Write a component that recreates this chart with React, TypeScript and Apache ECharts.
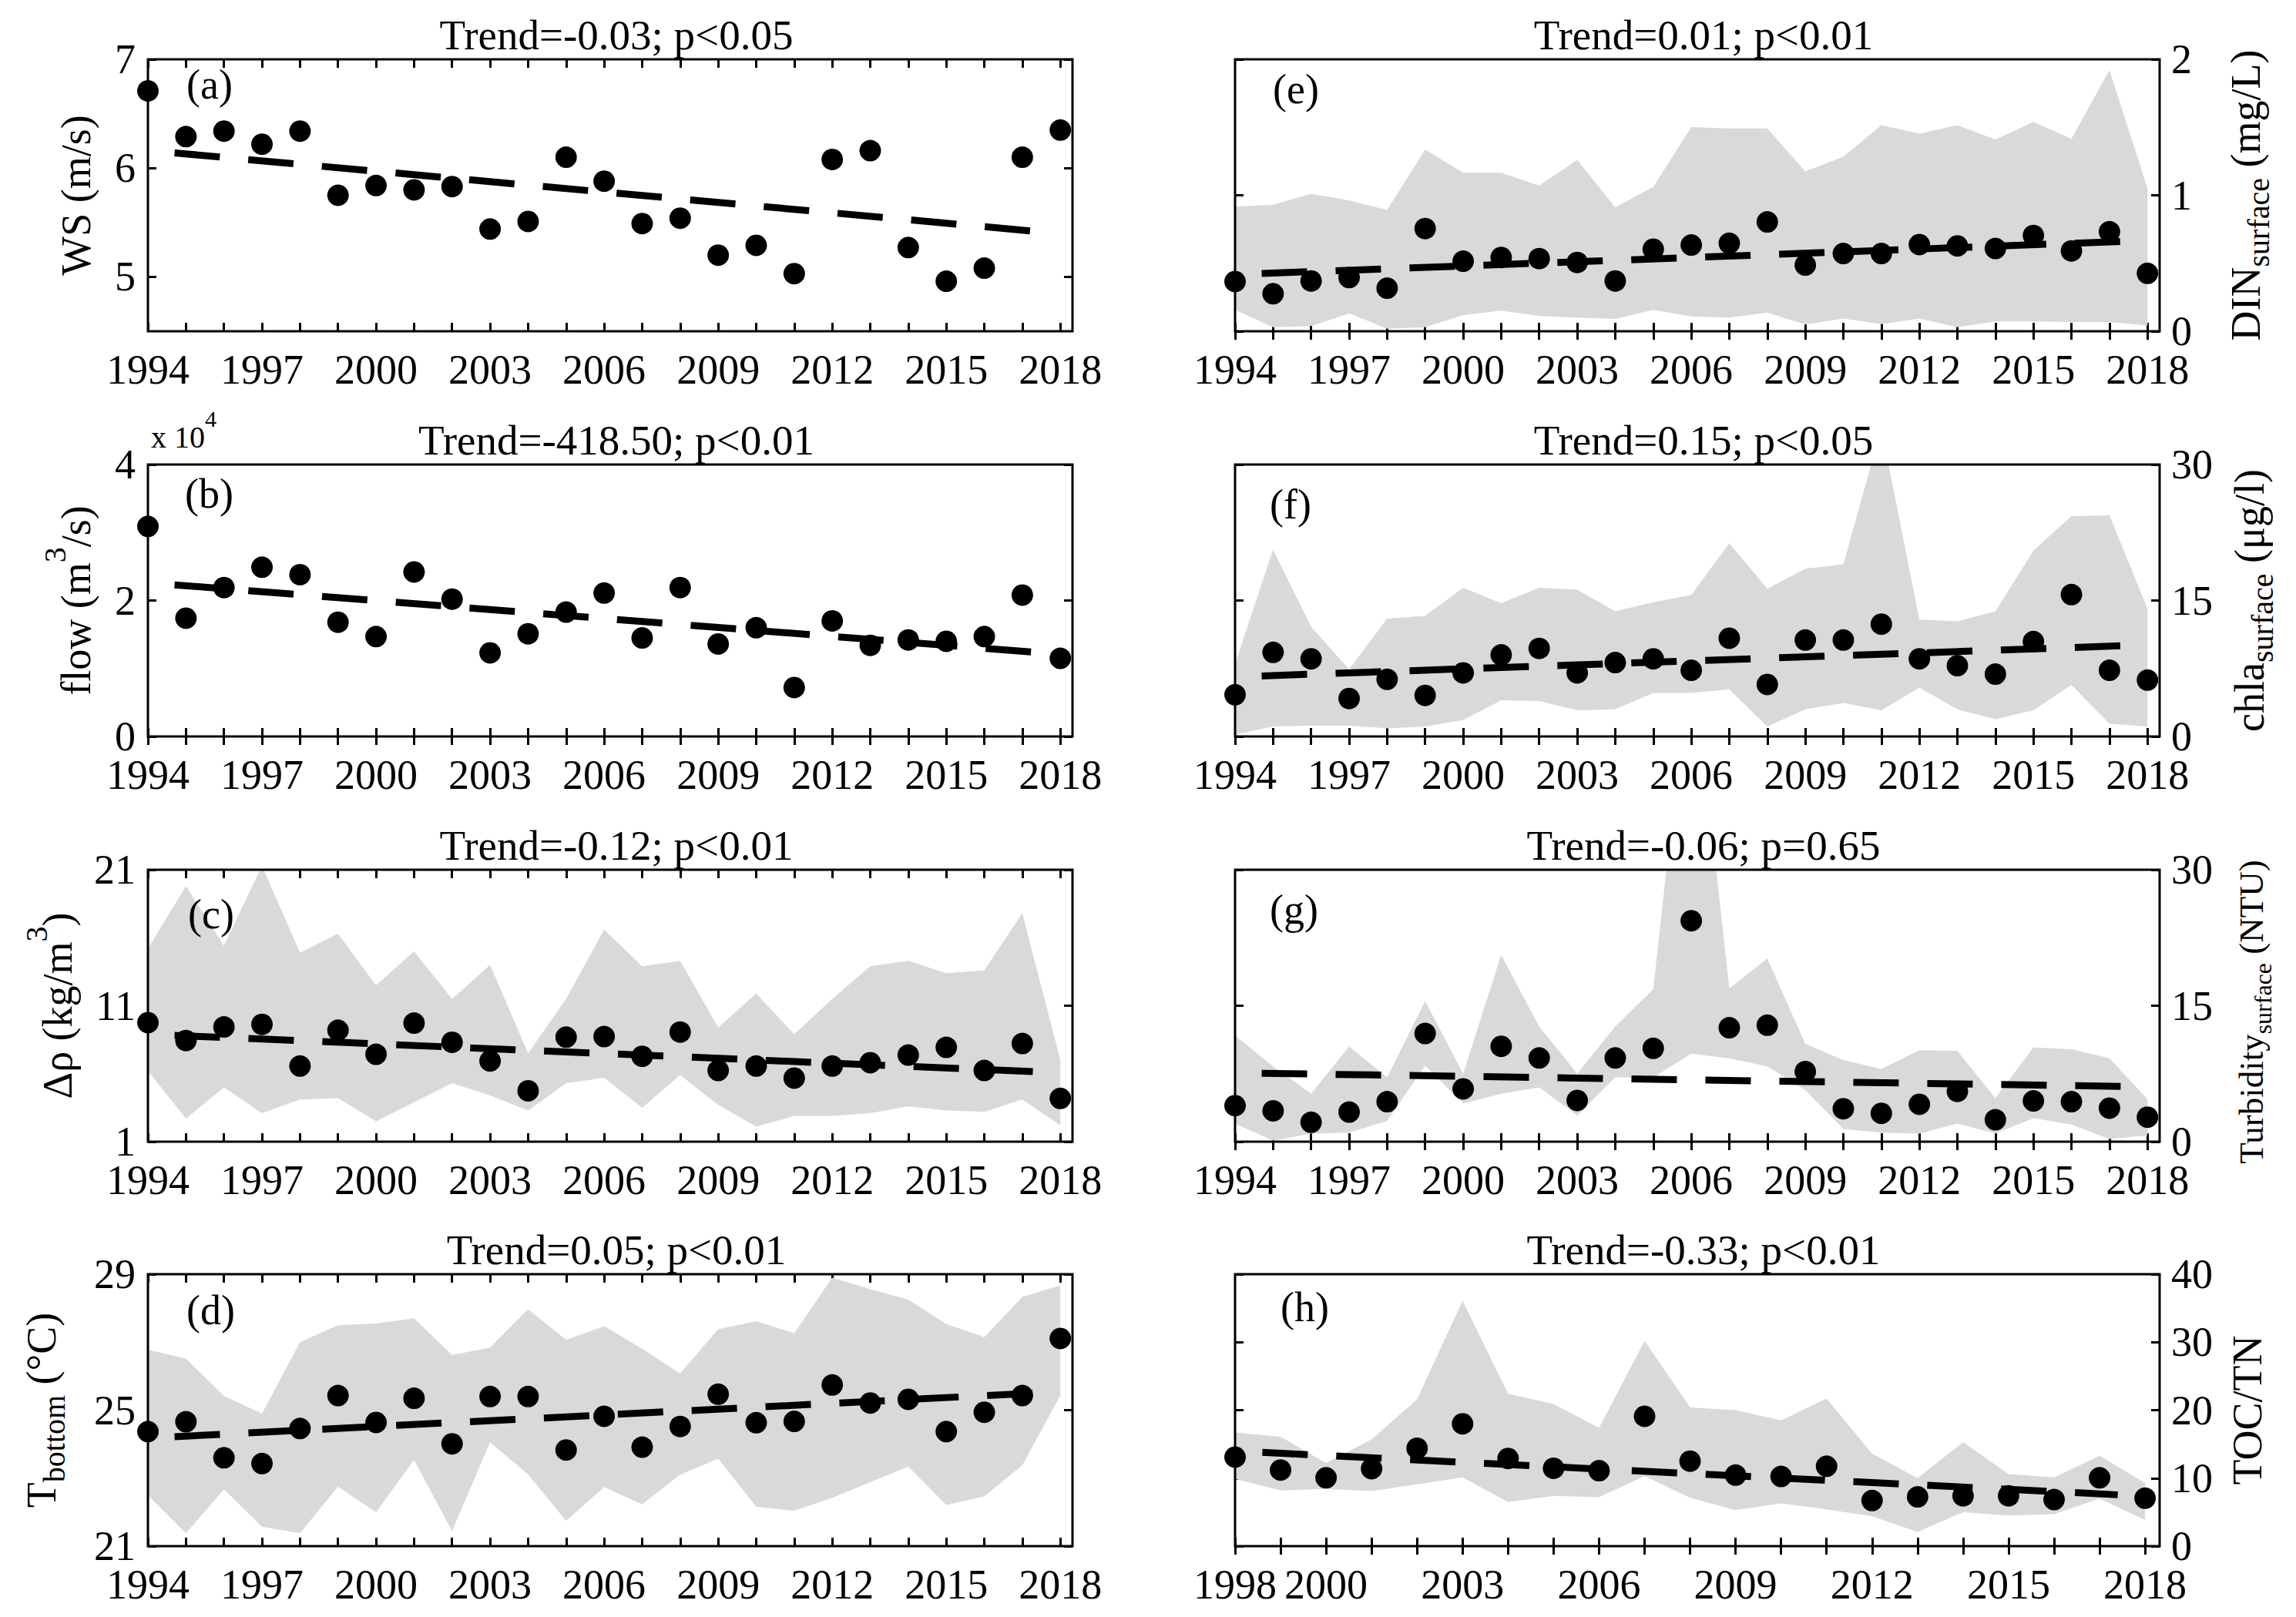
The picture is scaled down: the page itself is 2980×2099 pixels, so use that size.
import React, { useEffect, useRef } from 'react';
import * as echarts from 'echarts';

const FONT = '"Liberation Serif", "Times New Roman", Times, serif';

// ---------- categories / ticks ----------
const years1994 = [1994, 1995, 1996, 1997, 1998, 1999, 2000, 2001, 2002, 2003, 2004, 2005, 2006, 2007, 2008, 2009, 2010, 2011, 2012, 2013, 2014, 2015, 2016, 2017, 2018];
const years1998 = [1998, 1999, 2000, 2001, 2002, 2003, 2004, 2005, 2006, 2007, 2008, 2009, 2010, 2011, 2012, 2013, 2014, 2015, 2016, 2017, 2018];
const xLabels1994 = [1994, 1997, 2000, 2003, 2006, 2009, 2012, 2015, 2018];
const xLabels1998 = [1998, 2000, 2003, 2006, 2009, 2012, 2015, 2018];
const trendX1994 = [1994.7, 2017.3];
const trendX1998 = [1998.6, 2017.4];

// ---------- (a) wind speed ----------
const wsValues = [6.71, 6.29, 6.34, 6.22, 6.34, 5.75, 5.84, 5.80, 5.83, 5.44, 5.51, 6.10, 5.88, 5.49, 5.54, 5.20, 5.29, 5.03, 6.08, 6.16, 5.27, 4.96, 5.08, 6.10, 6.35];
const wsTrend = [6.14, 5.42];
const wsTicks = [5, 6, 7];

// ---------- (b) flow ----------
const flowValues = [30900, 17400, 21900, 24900, 23800, 16800, 14700, 24200, 20200, 12300, 15100, 18300, 21100, 14500, 21900, 13600, 16000, 7200, 17000, 13400, 14200, 14000, 14700, 20800, 11500];
const flowTrend = [22300, 12400];
const flowTicks = [0, 20000, 40000];

// ---------- (c) density difference ----------
const rhoValues = [9.76, 8.44, 9.44, 9.63, 6.56, 9.20, 7.43, 9.72, 8.31, 6.94, 4.74, 8.69, 8.73, 7.28, 9.06, 6.24, 6.56, 5.68, 6.56, 6.81, 7.37, 7.94, 6.24, 8.22, 4.18];
const rhoUpper = [15.2, 19.8, 15.4, 21.3, 14.9, 16.3, 12.5, 15.0, 11.5, 14.0, 7.5, 11.5, 16.6, 13.9, 14.3, 9.4, 11.9, 8.9, 11.5, 13.9, 14.3, 13.4, 13.6, 17.8, 7.0];
const rhoLower = [6.2, 2.7, 5.0, 3.1, 4.1, 4.2, 2.5, 3.9, 5.3, 4.4, 3.3, 5.3, 5.7, 3.5, 5.9, 3.7, 2.1, 2.9, 2.9, 3.1, 3.6, 3.3, 3.2, 4.1, 2.2];
const rhoTrend = [8.82, 6.15];
const rhoTicks = [1, 11, 21];

// ---------- (d) bottom temperature ----------
const tbValues = [24.37, 24.66, 23.60, 23.43, 24.46, 25.43, 24.64, 25.35, 24.01, 25.40, 25.40, 23.83, 24.82, 23.91, 24.52, 25.47, 24.63, 24.67, 25.74, 25.21, 25.32, 24.37, 24.94, 25.43, 27.11];
const tbUpper = [26.78, 26.51, 25.42, 24.90, 27.00, 27.50, 27.55, 27.70, 26.62, 26.84, 27.97, 27.07, 27.47, 26.81, 26.08, 27.38, 27.62, 27.26, 28.90, 28.56, 28.25, 27.53, 27.15, 28.33, 28.67];
const tbLower = [22.50, 21.38, 22.67, 21.57, 21.38, 22.75, 22.00, 23.54, 21.44, 24.06, 23.11, 21.74, 22.74, 22.23, 23.10, 23.57, 22.16, 22.04, 22.42, 22.88, 23.34, 22.21, 22.46, 23.38, 25.43];
const tbTrend = [24.22, 25.50];
const tbTicks = [21, 25, 29];

// ---------- (e) DIN surface ----------
const dinValues = [0.366, 0.276, 0.370, 0.395, 0.317, 0.755, 0.515, 0.543, 0.534, 0.506, 0.370, 0.604, 0.634, 0.647, 0.804, 0.487, 0.572, 0.572, 0.638, 0.628, 0.609, 0.704, 0.591, 0.732, 0.426];
const dinUpper = [0.917, 0.930, 1.011, 0.962, 0.892, 1.336, 1.166, 1.166, 1.072, 1.260, 0.911, 1.062, 1.502, 1.491, 1.492, 1.175, 1.283, 1.515, 1.453, 1.515, 1.411, 1.540, 1.415, 1.921, 1.053];
const dinLower = [0.157, 0.030, 0.038, 0.132, 0.019, 0.030, 0.119, 0.151, 0.113, 0.100, 0.091, 0.157, 0.109, 0.100, 0.138, 0.049, 0.094, 0.053, 0.094, 0.030, 0.072, 0.072, 0.068, 0.068, 0.043];
const dinTrend = [0.425, 0.66];
const dinTicks = [0, 1, 2];

// ---------- (f) chla surface ----------
const chlaValues = [4.61, 9.28, 8.57, 4.19, 6.31, 4.53, 7.02, 9.00, 9.71, 7.02, 8.15, 8.57, 7.30, 10.84, 5.74, 10.64, 10.64, 12.39, 8.57, 7.81, 6.88, 10.47, 15.65, 7.30, 6.22];
const chlaUpper = [8.0, 20.6, 12.1, 7.4, 13.0, 13.3, 16.4, 14.7, 16.4, 16.2, 13.8, 14.8, 15.6, 21.3, 16.3, 18.5, 19.0, 34.0, 12.9, 12.7, 13.8, 20.5, 24.3, 24.4, 14.1];
const chlaLower = [0.2, 1.1, 1.2, 1.2, 0.9, 1.1, 1.8, 4.0, 3.9, 2.9, 3.0, 4.8, 4.8, 5.2, 1.1, 3.0, 3.7, 2.9, 5.4, 3.0, 1.9, 2.9, 5.7, 1.4, 1.1];
const chlaTrend = [6.68, 10.0];
const chlaTicks = [0, 15, 30];

// ---------- (g) turbidity surface ----------
const turbValues = [3.98, 3.41, 2.14, 3.27, 4.41, 11.94, 5.83, 10.52, 9.24, 4.55, 9.24, 10.30, 24.37, 12.57, 12.85, 7.74, 3.64, 3.13, 4.13, 5.55, 2.42, 4.50, 4.41, 3.70, 2.70];
const turbUpper = [11.7, 8.3, 5.3, 10.5, 7.1, 15.5, 7.5, 20.6, 12.7, 7.5, 12.7, 16.8, 55.0, 16.9, 20.2, 10.8, 9.0, 8.0, 10.1, 10.0, 4.8, 10.4, 10.2, 9.2, 4.7];
const turbLower = [2.0, 0.1, 0.9, 1.0, 2.3, 8.4, 4.2, 5.3, 6.0, 2.9, 7.1, 7.1, 9.7, 9.2, 8.3, 5.7, 1.4, 1.0, 0.9, 2.0, 0.9, 2.6, 1.9, 0.3, 0.7];
const turbTrend = [7.55, 6.10];
const turbTicks = [0, 15, 30];

// ---------- (h) TOC/TN ----------
const tocValues = [13.1, 11.2, 10.05, 11.4, 14.4, 18.0, 12.9, 11.45, 11.1, 19.1, 12.5, 10.45, 10.25, 11.75, 6.7, 7.25, 7.4, 7.4, 6.85, 10.05, 7.05];
const tocUpper = [16.7, 16.1, 12.2, 15.7, 21.6, 36.1, 22.4, 20.9, 17.4, 30.2, 20.4, 20.0, 18.5, 21.7, 13.6, 10.0, 15.3, 10.6, 10.1, 13.3, 9.3];
const tocLower = [9.9, 8.2, 8.4, 8.1, 9.1, 10.1, 6.5, 7.4, 7.2, 10.3, 7.1, 5.3, 6.3, 5.4, 4.4, 2.1, 5.0, 4.5, 4.7, 7.0, 3.85];
const tocTrend = [13.8, 7.55];
const tocTicks = [0, 10, 20, 30, 40];

// ---------- text ----------
const titles = ['Trend=-0.03; p<0.05', 'Trend=-418.50; p<0.01', 'Trend=-0.12; p<0.01', 'Trend=0.05; p<0.01', 'Trend=0.01; p<0.01', 'Trend=0.15; p<0.05', 'Trend=-0.06; p=0.65', 'Trend=-0.33; p<0.01'];
const panelTags = ['(a)', '(b)', '(c)', '(d)', '(e)', '(f)', '(g)', '(h)'];

// ---------- layout ----------
const COL_LEFT = [192, 1603];
const ROW_TOP = [77, 603, 1129, 1654];
const PW = 1200;
const PH = 353;
const XMAX = 2018.32;

type Panel = {
  col: number; row: number; xs: number[]; ys: number[]; lo?: number[]; hi?: number[];
  tx: number[]; ty: number[]; yMin: number; yMax: number; yTicks: number[];
  xMin: number; xLabels: number[]; fmt?: (v: number) => string;
  tagX: number; tagDy: number; name: any;
};

const panels: Panel[] = [
  { col: 0, row: 0, xs: years1994, ys: wsValues, tx: trendX1994, ty: wsTrend, yMin: 4.5, yMax: 7, yTicks: wsTicks, xMin: 1994, xLabels: xLabels1994, tagX: 242, tagDy: 33,
    name: { x: 99, text: 'WS (m/s)' } },
  { col: 0, row: 1, xs: years1994, ys: flowValues, tx: trendX1994, ty: flowTrend, yMin: 0, yMax: 40000, yTicks: flowTicks, xMin: 1994, xLabels: xLabels1994, fmt: (v) => String(v / 10000), tagX: 240, tagDy: 38,
    name: { x: 99, text: '{mp|flow (m}{sup|3}{mp|/s)}' } },
  { col: 0, row: 2, xs: years1994, ys: rhoValues, lo: rhoLower, hi: rhoUpper, tx: trendX1994, ty: rhoTrend, yMin: 1, yMax: 21, yTicks: rhoTicks, xMin: 1994, xLabels: xLabels1994, tagX: 244, tagDy: 58,
    name: { x: 75, text: '{mp|Δρ (kg/m}{sup|3}{mp|)}' } },
  { col: 0, row: 3, xs: years1994, ys: tbValues, lo: tbLower, hi: tbUpper, tx: trendX1994, ty: tbTrend, yMin: 21, yMax: 29, yTicks: tbTicks, xMin: 1994, xLabels: xLabels1994, tagX: 242, tagDy: 47,
    name: { x: 54, text: '{m|T}{sub|bottom}{m| (°C)}' } },
  { col: 1, row: 0, xs: years1994, ys: dinValues, lo: dinLower, hi: dinUpper, tx: trendX1994, ty: dinTrend, yMin: 0, yMax: 2, yTicks: dinTicks, xMin: 1994, xLabels: xLabels1994, tagX: 1652, tagDy: 39,
    name: { x: 2915, text: '{m|DIN}{sub|surface}{m| (mg/L)}' } },
  { col: 1, row: 1, xs: years1994, ys: chlaValues, lo: chlaLower, hi: chlaUpper, tx: trendX1994, ty: chlaTrend, yMin: 0, yMax: 30, yTicks: chlaTicks, xMin: 1994, xLabels: xLabels1994, tagX: 1648, tagDy: 52,
    name: { x: 2920, text: '{m|chla}{sub|surface}{m| (μg/l)}' } },
  { col: 1, row: 2, xs: years1994, ys: turbValues, lo: turbLower, hi: turbUpper, tx: trendX1994, ty: turbTrend, yMin: 0, yMax: 30, yTicks: turbTicks, xMin: 1994, xLabels: xLabels1994, tagX: 1648, tagDy: 52,
    name: { x: 2922, text: '{t|Turbidity}{ts|surface}{t| (NTU)}', dy: 8 } },
  { col: 1, row: 3, xs: years1998, ys: tocValues, lo: tocLower, hi: tocUpper, tx: trendX1998, ty: tocTrend, yMin: 0, yMax: 40, yTicks: tocTicks, xMin: 1998, xLabels: xLabels1998, tagX: 1662, tagDy: 43,
    name: { x: 2917, text: 'TOC/TN' } },
];

const RICH = {
  m: { fontSize: 54, fontFamily: FONT, fill: '#000', lineHeight: 72 },
  mp: { fontSize: 54, fontFamily: FONT, fill: '#000', lineHeight: 96 },
  sup: { fontSize: 40, fontFamily: FONT, fill: '#000', lineHeight: 40, verticalAlign: 'top' },
  sub: { fontSize: 40, fontFamily: FONT, fill: '#000', lineHeight: 40, verticalAlign: 'bottom' },
  t: { fontSize: 45, fontFamily: FONT, fill: '#000', lineHeight: 62 },
  ts: { fontSize: 32, fontFamily: FONT, fill: '#000', lineHeight: 32, verticalAlign: 'bottom' },
};

function buildOption() {
  const grid: any[] = [];
  const xAxis: any[] = [];
  const yAxis: any[] = [];
  const series: any[] = [];
  const graphic: any[] = [];

  const tick = (vals: number[]) => ({ show: true, inside: true, length: 11, customValues: vals, lineStyle: { color: '#000', width: 3 } });
  const labelBase = { fontSize: 54, fontFamily: FONT, color: '#000', lineHeight: 54 };

  panels.forEach((p, i) => {
    const left = COL_LEFT[p.col];
    const top = ROW_TOP[p.row];
    const labelsRight = p.col === 1;
    grid.push({ left, top, width: PW, height: PH, show: true, borderColor: '#000', borderWidth: 3, backgroundColor: 'rgba(0,0,0,0)', z: 5 });

    xAxis.push({
      type: 'value', gridIndex: i, position: 'bottom', min: p.xMin, max: XMAX,
      axisLine: { show: false }, splitLine: { show: false },
      axisTick: tick(p.xs),
      axisLabel: { ...labelBase, show: true, customValues: p.xLabels, margin: 23, formatter: (v: number) => String(Math.round(v)) },
    });
    xAxis.push({
      type: 'value', gridIndex: i, position: 'top', min: p.xMin, max: XMAX,
      axisLine: { show: false }, splitLine: { show: false },
      axisTick: tick(p.xs), axisLabel: { show: false },
    });
    const fmt = p.fmt || ((v: number) => String(v));
    yAxis.push({
      type: 'value', gridIndex: i, position: 'left', min: p.yMin, max: p.yMax,
      axisLine: { show: false }, splitLine: { show: false },
      axisTick: tick(p.yTicks),
      axisLabel: labelsRight ? { show: false } : { ...labelBase, show: true, customValues: p.yTicks, margin: 16, formatter: fmt },
    });
    yAxis.push({
      type: 'value', gridIndex: i, position: 'right', min: p.yMin, max: p.yMax,
      axisLine: { show: false }, splitLine: { show: false },
      axisTick: tick(p.yTicks),
      axisLabel: labelsRight ? { ...labelBase, show: true, customValues: p.yTicks, margin: 15, formatter: fmt } : { show: false },
    });

    const xi = i * 2;
    const yi = i * 2;
    if (p.lo && p.hi) {
      const xs = p.xs, lo = p.lo, hi = p.hi;
      series.push({
        type: 'custom', xAxisIndex: xi, yAxisIndex: yi, clip: true, silent: true, z: 1,
        data: [[xs[0], lo[0]]],
        renderItem: (_params: any, api: any) => {
          const pts: number[][] = [];
          for (let k = 0; k < xs.length; k++) pts.push(api.coord([xs[k], hi[k]]));
          for (let k = xs.length - 1; k >= 0; k--) pts.push(api.coord([xs[k], lo[k]]));
          return { type: 'polygon', shape: { points: pts }, style: { fill: '#d9d9d9', stroke: 'none' } };
        },
      });
    }
    series.push({
      type: 'scatter', xAxisIndex: xi, yAxisIndex: yi, clip: false, silent: true, z: 3,
      symbol: 'circle', symbolSize: 28, itemStyle: { color: '#000', opacity: 1 },
      data: p.xs.map((x, k) => [x, p.ys[k]]),
    });
    series.push({
      type: 'line', xAxisIndex: xi, yAxisIndex: yi, clip: false, silent: true, z: 4,
      symbol: 'none', lineStyle: { color: '#000', width: 9, type: [59, 37], cap: 'butt', opacity: 1 },
      data: p.tx.map((x, k) => [x, p.ty[k]]),
    });

    // title
    graphic.push({
      type: 'text', x: left + PW / 2 + 8, y: top - 32, silent: true, z: 100,
      style: { text: titles[i], fontSize: 55, fontFamily: FONT, fill: '#000', align: 'center', verticalAlign: 'middle' },
    });
    // panel tag
    graphic.push({
      type: 'text', x: p.tagX, y: top + p.tagDy, silent: true, z: 100,
      style: { text: panelTags[i], fontSize: 54, fontFamily: FONT, fill: '#000', align: 'left', verticalAlign: 'middle' },
    });
    // axis name
    graphic.push({
      type: 'text', x: p.name.x, y: top + PH / 2 + (p.name.dy || 0), rotation: Math.PI / 2, silent: true, z: 100,
      style: { text: p.name.text, rich: RICH, fontSize: 54, fontFamily: FONT, fill: '#000', align: 'center', verticalAlign: 'middle' },
    });
  });

  // x 10^4 multiplier for panel (b)
  graphic.push({
    type: 'text', x: 196, y: ROW_TOP[1] - 36, silent: true, z: 100,
    style: {
      text: '{a|x 10}{b|4}', align: 'left', verticalAlign: 'middle',
      rich: {
        a: { fontSize: 40, fontFamily: FONT, fill: '#000', lineHeight: 78 },
        b: { fontSize: 30, fontFamily: FONT, fill: '#000', lineHeight: 30, verticalAlign: 'top' },
      },
    },
  });

  return { animation: false, backgroundColor: '#fff', grid, xAxis, yAxis, series, graphic };
}

export default function App() {
  const ref = useRef<HTMLDivElement>(null);
  useEffect(() => {
    document.body.style.margin = '0';
    const chart = echarts.init(ref.current as HTMLDivElement, null, { renderer: 'svg' });
    chart.setOption(buildOption() as any);
    return () => chart.dispose();
  }, []);
  return <div ref={ref} style={{ position: 'absolute', left: 0, top: 0, width: 2980, height: 2099, background: '#fff' }} />;
}
